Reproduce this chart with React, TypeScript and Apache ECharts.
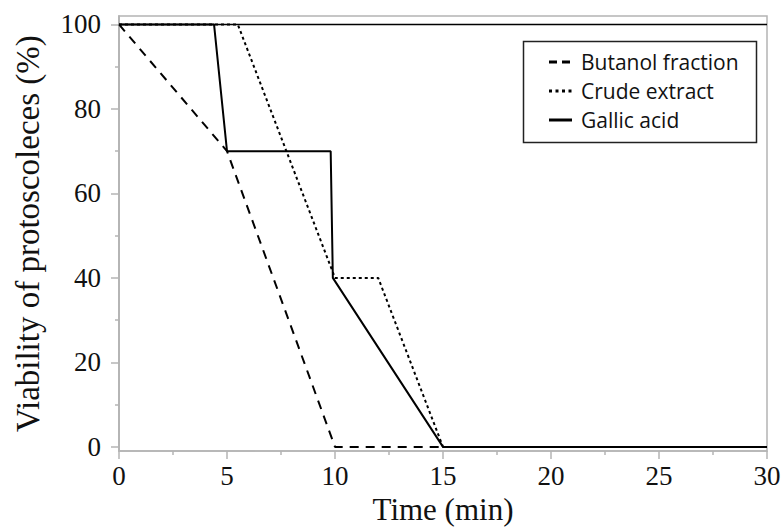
import React, { useEffect, useRef } from "react";
import * as echarts from "echarts";

const butanol: [number, number][] = [[0, 100], [5, 70], [10, 0], [30, 0]];
const crude: [number, number][] = [[0, 100], [5.5, 100], [10, 40], [12, 40], [15, 0], [30, 0]];
const gallic: [number, number][] = [[0, 100], [4.4, 100], [5, 70], [9.8, 70], [9.9, 40], [15, 0], [30, 0]];
const control: [number, number][] = [[0, 100], [30, 100]];
const yMajor = [0, 20, 40, 60, 80, 100];
const yMinor = [10, 30, 50, 70, 90];
const legendNames = ["Butanol fraction", "Crude extract", "Gallic acid"];
const legendDash: (number[] | null)[] = [[8, 5], [3, 3.5], null];

const serif = "'Liberation Serif', 'Times New Roman', serif";
const sans = "'Open Sans', 'Noto Sans', sans-serif";
const gray = "#b4b4b4";

export default function App() {
  const ref = useRef<HTMLDivElement>(null);
  useEffect(() => {
    const chart = echarts.init(ref.current!, null, { renderer: "svg" });
    const yBase = {
      type: "value" as const,
      min: -1,
      max: 102,
      position: "left" as const,
      splitLine: { show: false },
      axisLine: { show: true, lineStyle: { color: gray, width: 1.5 } },
    };
    const legendGraphics: any[] = [
      {
        type: "rect",
        shape: { x: 523.5, y: 41.5, width: 233, height: 101 },
        style: { fill: "#fff", stroke: "#222", lineWidth: 1.5 },
        z: 10,
      },
    ];
    legendNames.forEach((name, i) => {
      const y = 62 + i * 29;
      legendGraphics.push({
        type: "line",
        shape: { x1: 549, y1: y, x2: 572, y2: y },
        style: { stroke: "#000", lineWidth: 3, lineDash: legendDash[i] || undefined },
        z: 11,
      });
      legendGraphics.push({
        type: "text",
        x: 581,
        y,
        style: { text: name, fontFamily: sans, fontSize: 21, fill: "#111", verticalAlign: "middle", align: "left" },
        z: 11,
      });
    });
    chart.setOption({
      animation: false,
      backgroundColor: "#fff",
      grid: { left: 119, right: 17, top: 16, bottom: 75, show: true, borderColor: gray, borderWidth: 1.5 },
      xAxis: {
        type: "value",
        min: 0,
        max: 30,
        interval: 5,
        name: "Time (min)",
        nameLocation: "middle",
        nameGap: 41,
        nameTextStyle: { fontFamily: serif, fontSize: 31, color: "#111" },
        axisLine: { show: true, onZero: false, lineStyle: { color: gray, width: 1.5 } },
        axisTick: { show: true, length: 8, lineStyle: { color: gray, width: 1.5 } },
        minorTick: { show: true, splitNumber: 2, length: 4, lineStyle: { color: gray, width: 1.5 } },
        axisLabel: { fontFamily: serif, fontSize: 27, color: "#111", margin: 11 },
        splitLine: { show: false },
      },
      yAxis: [
        {
          ...yBase,
          name: "Viability of protoscoleces (%)",
          nameLocation: "middle",
          nameGap: 75,
          nameTextStyle: { fontFamily: serif, fontSize: 33, color: "#111" },
          axisTick: { show: true, length: 8, customValues: yMajor, lineStyle: { color: gray, width: 1.5 } },
          axisLabel: { show: true, customValues: yMajor, fontFamily: serif, fontSize: 27, color: "#111", margin: 18 },
        },
        {
          ...yBase,
          axisTick: { show: true, length: 4, customValues: yMinor, lineStyle: { color: gray, width: 1.5 } },
          axisLabel: { show: false },
        },
      ],
      graphic: legendGraphics,
      series: [
        {
          name: "Control",
          type: "line",
          data: control,
          symbol: "none",
          color: "#000",
          lineStyle: { color: "#000", width: 1.6, type: "solid" },
        },
        {
          name: "Butanol fraction",
          type: "line",
          data: butanol,
          symbol: "none",
          color: "#000",
          lineStyle: { color: "#000", width: 2, type: [9, 7] },
        },
        {
          name: "Crude extract",
          type: "line",
          data: crude,
          symbol: "none",
          color: "#000",
          lineStyle: { color: "#000", width: 2, type: [3, 3] },
        },
        {
          name: "Gallic acid",
          type: "line",
          data: gallic,
          symbol: "none",
          color: "#000",
          lineStyle: { color: "#000", width: 2, type: "solid" },
        },
      ],
    });
    return () => chart.dispose();
  }, []);
  return <div ref={ref} style={{ width: 784, height: 530, position: "absolute", left: 0, top: 0 }} />;
}
